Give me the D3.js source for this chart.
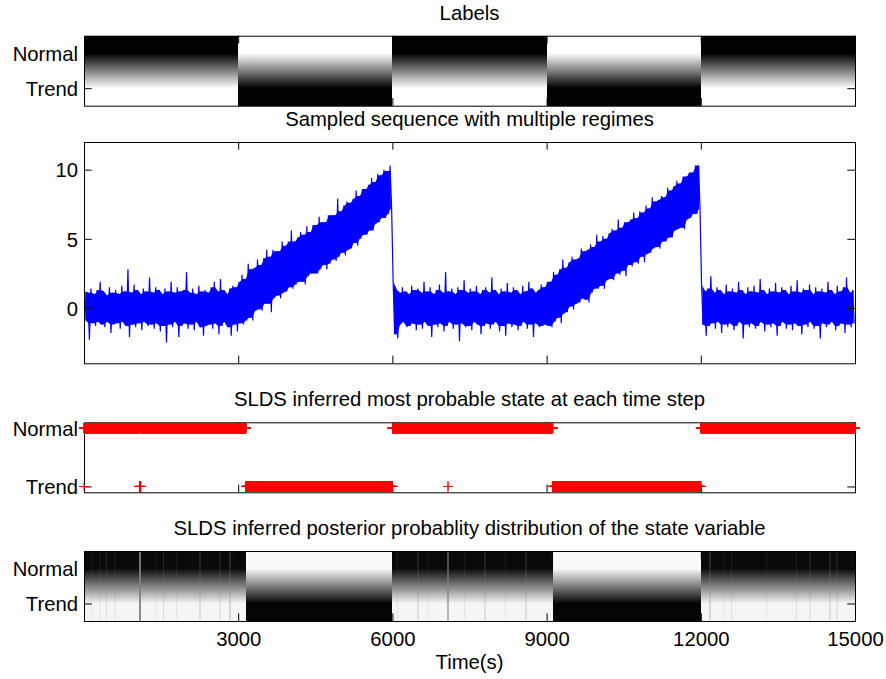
<!DOCTYPE html>
<html>
<head>
<meta charset="utf-8">
<script src="https://cdn.jsdelivr.net/npm/d3@7"></script>
<style>
  html, body { margin: 0; padding: 0; background: #fff; }
  svg { display: block; font-family: "Liberation Sans", Arial, Helvetica, sans-serif; }
</style>
</head>
<body>
<svg id="fig" width="886" height="679"></svg>
<script>
// ---------------- data ----------------
const timeDomain = [0, 15000];
const timeTicks = [3000, 6000, 9000, 12000, 15000];
const stateNames = ["Normal", "Trend"];

// ground-truth regimes
const labelStart = [0, 3000, 6000, 9000, 12000];
const labelEnd   = [3000, 6000, 9000, 12000, 15000];
const labelState = ["Normal", "Trend", "Normal", "Trend", "Normal"];

// sampled sequence, summarised per 60 s window (highest / lowest sample)
const windowSeconds = 60;
const seqHigh = [
  1.2,1.1,1.4,1.0,1.3,1.9,1.2,0.9,1.5,1.1, 1.3,1.0,1.6,1.2,2.8,1.1,1.7,1.3,1.0,1.4,
  1.2,2.2,1.1,1.5,1.3,1.0,1.4,1.2,1.9,1.1, 1.5,1.2,1.3,2.6,1.1,1.4,1.0,1.6,1.2,1.3,
  1.1,1.5,1.9,1.2,2.1,1.3,1.0,1.4,1.6,1.5,
  1.9,2.4,2.1,3.2,2.8,2.9,3.5,3.1,3.6,4.2, 3.7,4.2,4.1,4.1,4.8,4.5,4.8,5.6,4.8,5.1,
  5.5,5.3,5.9,5.5,6.0,6.0,6.6,6.2,6.2,6.7, 6.7,6.7,7.9,7.0,7.4,7.7,7.6,7.9,8.5,8.1,
  8.6,8.6,8.9,9.4,9.1,9.7,9.6,10.0,9.9,10.3,
  1.8,1.3,1.1,1.5,1.2,1.0,1.6,1.3,1.4,1.1, 1.9,1.2,1.5,1.0,1.3,1.7,1.1,2.6,1.2,1.4,
  1.0,1.5,1.3,2.0,1.1,1.4,1.2,1.6,1.0,1.3, 1.5,1.1,2.2,1.3,1.0,1.4,1.2,1.8,1.1,1.5,
  1.3,1.0,1.6,1.2,1.9,1.4,1.1,1.3,1.7,1.5,
  1.9,1.9,2.6,2.4,2.8,3.5,2.9,3.3,3.7,3.5, 3.6,4.3,4.1,4.2,4.6,4.4,5.3,4.8,5.2,5.0,
  5.4,5.7,5.6,6.4,5.8,6.2,6.2,6.4,6.9,6.5, 7.0,6.9,7.4,7.2,8.0,7.7,7.8,8.1,8.0,8.7,
  8.5,8.8,9.2,9.0,9.5,9.5,9.8,9.8,10.3,10.3,
  1.6,1.2,1.4,2.3,1.1,1.5,1.3,1.0,1.7,1.2, 1.4,1.1,1.9,1.3,1.0,1.5,1.2,1.6,1.1,2.1,
  1.3,1.0,1.4,1.2,1.8,1.1,1.5,1.3,1.0,1.6, 1.2,2.0,1.1,1.4,1.3,1.7,1.0,1.5,1.2,1.4,
  1.1,1.9,1.3,1.0,1.6,1.2,1.5,2.2,1.1,1.3
];
const seqLow = [
  -0.9,-2.3,-1.1,-1.3,-1.0,-1.2,-1.4,-1.0,-1.8,-1.2, -1.1,-1.5,-1.0,-1.3,-2.1,-1.2,-1.4,-1.1,-1.6,-1.0,
  -1.3,-1.2,-1.5,-1.1,-1.7,-1.3,-2.5,-1.2,-1.4,-1.0, -2.1,-1.3,-1.1,-1.5,-1.2,-1.6,-1.0,-1.4,-2.0,-1.3,
  -1.2,-1.5,-1.1,-1.9,-1.3,-1.0,-1.4,-2.0,-1.2,-1.7,
  -1.1,-1.2,-0.9,-0.7,-0.9,-0.2,-0.1,-0.2,0.3,0.3, -0.3,0.7,0.9,0.7,1.1,1.2,1.5,1.4,1.7,1.9,
  1.9,1.7,2.3,2.5,2.5,2.5,2.8,3.1,2.8,3.2, 3.5,3.4,3.7,4.0,3.8,4.2,4.3,4.7,4.5,5.0,
  5.3,5.3,5.6,5.6,6.1,6.2,6.5,6.5,6.8,7.2,
  -1.9,-2.2,-1.2,-1.0,-1.4,-1.3,-1.1,-1.6,-1.2,-1.5, -1.0,-1.3,-2.1,-1.2,-1.4,-1.1,-1.7,-1.3,-1.0,-1.5,
  -1.2,-2.4,-1.1,-1.4,-1.3,-1.6,-1.0,-1.2,-1.9,-1.3, -1.1,-1.5,-1.2,-1.0,-1.7,-1.3,-2.0,-1.1,-1.4,-1.2,
  -1.6,-1.3,-1.0,-1.5,-1.2,-2.1,-1.1,-1.4,-1.3,-1.2,
  -1.3,-1.4,-1.0,-0.7,-1.1,-0.4,-0.3,0.1,-0.1,0.3, 0.4,0.7,0.6,0.4,1.1,1.4,1.4,1.6,1.4,2.0,
  2.1,2.0,2.5,2.4,2.7,2.3,3.1,3.0,3.3,3.2, 3.7,3.3,3.9,4.0,4.3,4.4,4.3,4.8,4.8,5.1,
  5.1,5.6,5.7,5.8,5.7,6.4,6.5,6.8,6.8,7.2,
  -1.2,-2.0,-1.3,-1.1,-1.5,-1.0,-1.8,-1.2,-1.4,-1.1, -1.6,-1.3,-1.0,-2.2,-1.2,-1.4,-1.1,-1.5,-1.3,-1.0,
  -1.7,-1.2,-1.4,-1.1,-2.0,-1.3,-1.0,-1.5,-1.2,-1.6, -1.1,-1.3,-1.9,-1.2,-1.4,-1.0,-1.5,-1.3,-2.2,-1.1,
  -1.4,-1.2,-1.0,-1.6,-1.3,-1.1,-1.8,-1.2,-1.4,-1.1
];
const seqDomain = [-4, 12];
const seqTicks = [0, 5, 10];

// most probable state, as runs of time steps (inclusive)
const mapRunStart = [1, 2,    1078, 1104, 3151, 6001, 7082, 7084, 9121,  12001];
const mapRunEnd   = [1, 1077, 1103, 3150, 6000, 7081, 7083, 9120, 12000, 15000];
const mapRunState = ["Trend","Normal","Trend","Normal","Trend","Normal","Trend","Normal","Trend","Normal"];

// posterior P(Normal): level per segment, plus short dips
const postStart  = [0, 3150, 6000, 9120, 12000];
const postEnd    = [3150, 6000, 9120, 12000, 15000];
const postNormal = [0.96, 0.02, 0.96, 0.02, 0.96];
const dipTime   = [150, 311, 441, 603, 1090, 1414, 1543, 1803, 2257, 2646, 2840,
                   6100, 6500, 6700, 7082, 7400, 7800, 8200, 8600,
                   12179, 12438, 12601, 13282, 13866, 14126, 14515, 14645];
const dipNormal = [0.90, 0.92, 0.88, 0.92, 0.55, 0.90, 0.86, 0.90, 0.88, 0.90, 0.85,
                   0.90, 0.88, 0.90, 0.70, 0.90, 0.88, 0.90, 0.87,
                   0.85, 0.90, 0.88, 0.90, 0.88, 0.90, 0.87, 0.90];
const dipSeconds = 30;

// ---------------- layout ----------------
const svg = d3.select("#fig");
const plotLeft = 84, plotRight = 855;
const tickLen = 7.7;
const fontPx = 20.3;
const P = {
  labels: { top: 35.7,  height: 70 },
  seq:    { top: 142,   height: 221.3 },
  map:    { top: 422.3, height: 70 },
  post:   { top: 551,   height: 70 }
};

const x = d3.scaleLinear().domain(timeDomain).range([plotLeft, plotRight]);
const defs = svg.append("defs");
let gradId = 0;

function grey(p) {
  const v = Math.round(255 * (1 - p));
  return `rgb(${v},${v},${v})`;
}

// two-row probability image, smoothly shaded between row centres
function probImage(g, yRow, starts, ends, pNormal) {
  const top = yRow.range()[0], bottom = yRow.range()[1];
  starts.forEach((t0, i) => {
    const id = "pg" + (gradId++);
    const lg = defs.append("linearGradient").attr("id", id)
      .attr("gradientUnits", "userSpaceOnUse")
      .attr("x1", 0).attr("x2", 0).attr("y1", yRow(1)).attr("y2", yRow(2));
    lg.append("stop").attr("offset", 0).attr("stop-color", grey(pNormal[i]));
    lg.append("stop").attr("offset", 1).attr("stop-color", grey(1 - pNormal[i]));
    g.append("rect")
      .attr("x", x(t0)).attr("width", Math.max(1, x(ends[i]) - x(t0)))
      .attr("y", top).attr("height", bottom - top)
      .attr("shape-rendering", "crispEdges")
      .attr("fill", `url(#${id})`);
  });
}

function frame(y, yTicks, yFormat, showTimeLabels) {
  const top = Math.min(...y.range());
  const bottom = Math.max(...y.range());
  const g = svg.append("g");
  const styleAxis = sel => {
    sel.select(".domain").remove();
    sel.selectAll("line").attr("stroke", "#000");
    sel.selectAll("text").attr("fill", "#000")
      .style("font-size", fontPx + "px")
      .style("font-family", "'Liberation Sans', Arial, Helvetica, sans-serif");
  };
  g.append("g").attr("transform", `translate(0,${bottom})`)
    .call(d3.axisBottom(x).tickValues(timeTicks).tickSize(-tickLen).tickPadding(11)
      .tickFormat(showTimeLabels ? d3.format("d") : ""))
    .call(styleAxis);
  g.append("g").attr("transform", `translate(0,${top})`)
    .call(d3.axisTop(x).tickValues(timeTicks).tickSize(-tickLen).tickFormat(""))
    .call(styleAxis);
  g.append("g").attr("transform", `translate(${plotLeft},0)`)
    .call(d3.axisLeft(y).tickValues(yTicks).tickSize(-tickLen).tickPadding(6).tickFormat(yFormat))
    .call(styleAxis)
    .call(s => s.selectAll("text").attr("dy", "0.36em"));
  g.append("g").attr("transform", `translate(${plotRight},0)`)
    .call(d3.axisRight(y).tickValues(yTicks).tickSize(-tickLen).tickFormat(""))
    .call(styleAxis);
  g.append("rect")
    .attr("x", plotLeft + 0.5).attr("y", top + 0.5)
    .attr("width", plotRight - plotLeft).attr("height", bottom - top)
    .attr("fill", "none").attr("stroke", "#000").attr("stroke-width", 1);
  return { top, bottom };
}

function title(text, top) {
  svg.append("text")
    .attr("x", (plotLeft + plotRight) / 2).attr("y", top - 16)
    .attr("text-anchor", "middle").attr("fill", "#000")
    .style("font-size", fontPx + "px")
    .text(text);
}

const stateFormat = d => stateNames[d - 1];

// ---------------- panel 1: labels ----------------
const yLab = d3.scaleLinear().domain([0.5, 2.5]).range([P.labels.top, P.labels.top + P.labels.height]);
probImage(svg.append("g"), yLab, labelStart, labelEnd,
  labelState.map(s => s === "Normal" ? 1 : 0));
frame(yLab, [1, 2], stateFormat, false);
title("Labels", P.labels.top);

// ---------------- panel 2: sampled sequence ----------------
const ySeq = d3.scaleLinear().domain(seqDomain).range([P.seq.top + P.seq.height, P.seq.top]);
svg.append("clipPath").attr("id", "seqClip").append("rect")
  .attr("x", plotLeft).attr("y", P.seq.top).attr("width", plotRight - plotLeft).attr("height", P.seq.height);
const gSeq = svg.append("g").attr("clip-path", "url(#seqClip)");

// dense core of each window: the window range with isolated spikes trimmed
const n = seqHigh.length;
const core = seqHigh.map((hi, i) => {
  const hp = seqHigh[Math.max(0, i - 1)], hn = seqHigh[Math.min(n - 1, i + 1)];
  const lp = seqLow[Math.max(0, i - 1)],  ln = seqLow[Math.min(n - 1, i + 1)];
  return {
    t: i * windowSeconds + windowSeconds / 2,
    hi: Math.min(hi, Math.max(hp, hn)),
    lo: Math.max(seqLow[i], Math.min(lp, ln))
  };
});
// split the core into runs whose consecutive ranges overlap
const coreRuns = [];
core.forEach((c, i) => {
  const prev = core[i - 1];
  if (!prev || c.lo > prev.hi || c.hi < prev.lo) coreRuns.push([c]);
  else coreRuns[coreRuns.length - 1].push(c);
});
const coreArea = d3.area().x(d => x(d.t)).y0(d => ySeq(d.lo)).y1(d => ySeq(d.hi));
gSeq.selectAll("path.core").data(coreRuns).join("path")
  .attr("class", "core")
  .attr("fill", "#0000ff")
  .attr("d", coreArea);

// the trace itself, swinging between each window's extremes
const seqPoints = [];
seqHigh.forEach((hi, i) => {
  seqPoints.push([i * windowSeconds + windowSeconds * 0.25, hi]);
  seqPoints.push([i * windowSeconds + windowSeconds * 0.75, seqLow[i]]);
});
gSeq.append("path")
  .datum(seqPoints)
  .attr("fill", "none").attr("stroke", "#0000ff").attr("stroke-width", 1.2)
  .attr("d", d3.line().x(d => x(d[0])).y(d => ySeq(d[1])));
frame(ySeq, seqTicks, d3.format("d"), false);
title("Sampled sequence with multiple regimes", P.seq.top);

// ---------------- panel 3: most probable state ----------------
const yMap = d3.scaleLinear().domain([0.9, 2.1]).range([P.map.top, P.map.top + P.map.height]);
frame(yMap, [1, 2], stateFormat, false);
const half = 5;
const markerPath = [];
mapRunStart.forEach((s, i) => {
  const yy = yMap(stateNames.indexOf(mapRunState[i]) + 1);
  for (let t = s; t <= mapRunEnd[i]; t++) {
    const xx = x(t);
    markerPath.push(`M${(xx - half).toFixed(2)},${yy.toFixed(2)}h${2 * half}M${xx.toFixed(2)},${(yy - half).toFixed(2)}v${2 * half}`);
  }
});
svg.append("path")
  .attr("d", markerPath.join(""))
  .attr("fill", "none").attr("stroke", "#ff0000").attr("stroke-width", 1);
title("SLDS inferred most probable state at each time step", P.map.top);

// ---------------- panel 4: posterior ----------------
const yPost = d3.scaleLinear().domain([0.5, 2.5]).range([P.post.top, P.post.top + P.post.height]);
const gPost = svg.append("g");
probImage(gPost, yPost, postStart, postEnd, postNormal);
probImage(gPost, yPost,
  dipTime.map(t => t - dipSeconds / 2), dipTime.map(t => t + dipSeconds / 2), dipNormal);
frame(yPost, [1, 2], stateFormat, true);
title("SLDS inferred posterior probablity distribution of the state variable", P.post.top);

svg.append("text")
  .attr("x", (plotLeft + plotRight) / 2).attr("y", 669)
  .attr("text-anchor", "middle").attr("fill", "#000")
  .style("font-size", fontPx + "px")
  .text("Time(s)");
</script>
</body>
</html>
